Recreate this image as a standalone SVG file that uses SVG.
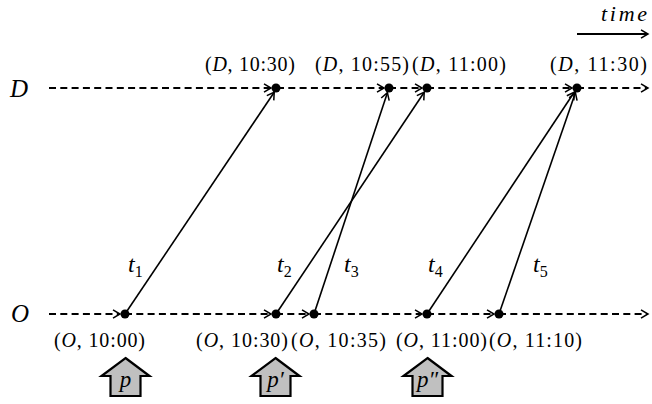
<svg xmlns="http://www.w3.org/2000/svg" width="652" height="404" viewBox="0 0 652 404" font-family="Liberation Serif, Times New Roman, DejaVu Serif, serif">
<style>
text{fill:#000}
.i{font-style:italic}
.lbl{font-size:20px}
.tl{font-size:24px;font-style:italic}
.tm{font-size:22px;font-style:italic}
.sub{font-size:16px;font-style:normal}
.axis{font-size:25px;font-style:italic}
.pl{font-size:23px;font-style:italic}
.dash{stroke:#000;stroke-width:2;stroke-dasharray:7 4.3;fill:none}
.trip{stroke:#000;stroke-width:1.6;fill:none}
.dot{fill:#000}
.pent{fill:#c0c0c0;stroke:#000;stroke-width:2.2;stroke-linejoin:miter}
</style>
<defs>
<marker id="ah" markerUnits="userSpaceOnUse" markerWidth="14" markerHeight="14" viewBox="-8 -6 10 12" refX="0" refY="0" orient="auto">
<path d="M-6,-3.6 L0,0 L-6,3.6" fill="none" stroke="#000" stroke-width="1.3" stroke-linejoin="miter"/>
</marker>
</defs>
<g id="time-arrow">
<text class="tm" x="601" y="21" textLength="46" lengthAdjust="spacing">time</text>
<line x1="577" y1="34" x2="648" y2="34" stroke="#000" stroke-width="2" marker-end="url(#ah)"/>
</g>
<g id="connectors">
<path class="dash" d="M49,88 H271" marker-end="url(#ah)"/>
<path class="dash" d="M277,88 H384" marker-end="url(#ah)"/>
<path class="dash" d="M389,88 H422" marker-end="url(#ah)"/>
<path class="dash" d="M427,88 H572" marker-end="url(#ah)"/>
<path class="dash" d="M577,88 H648" marker-end="url(#ah)"/>
<path class="dash" d="M49,314 H120" marker-end="url(#ah)"/>
<path class="dash" d="M125,314 H271" marker-end="url(#ah)"/>
<path class="dash" d="M276,314 H309" marker-end="url(#ah)"/>
<path class="dash" d="M314,314 H422" marker-end="url(#ah)"/>
<path class="dash" d="M427,314 H494" marker-end="url(#ah)"/>
<path class="dash" d="M499,314 H648" marker-end="url(#ah)"/>
<line class="trip" x1="125" y1="314" x2="274.2" y2="92.2" marker-end="url(#ah)"/>
<line class="trip" x1="276" y1="314" x2="424.2" y2="92.2" marker-end="url(#ah)"/>
<line class="trip" x1="314" y1="314" x2="387.4" y2="92.7" marker-end="url(#ah)"/>
<line class="trip" x1="427" y1="314" x2="574.2" y2="92.2" marker-end="url(#ah)"/>
<line class="trip" x1="499" y1="314" x2="575.4" y2="92.7" marker-end="url(#ah)"/>
<text class="tl" x="128" y="272">t<tspan class="sub" dy="5">1</tspan></text>
<text class="tl" x="277" y="272">t<tspan class="sub" dy="5">2</tspan></text>
<text class="tl" x="344" y="272">t<tspan class="sub" dy="5">3</tspan></text>
<text class="tl" x="428" y="272">t<tspan class="sub" dy="5">4</tspan></text>
<text class="tl" x="533" y="272">t<tspan class="sub" dy="5">5</tspan></text>
</g>
<g id="axis-D"><text class="axis" x="10" y="97">D</text></g>
<g id="axis-O"><text class="axis" x="11" y="322">O</text></g>
<g id="D-1030"><circle class="dot" cx="276" cy="88" r="4.5"/><text class="lbl" x="205" y="71" textLength="90" lengthAdjust="spacing">(<tspan class="i">D</tspan>, 10:30)</text></g>
<g id="D-1055"><circle class="dot" cx="389" cy="88" r="4.5"/><text class="lbl" x="315" y="71" textLength="94" lengthAdjust="spacing">(<tspan class="i">D</tspan>, 10:55)</text></g>
<g id="D-1100"><circle class="dot" cx="427" cy="88" r="4.5"/><text class="lbl" x="412" y="71" textLength="94" lengthAdjust="spacing">(<tspan class="i">D</tspan>, 11:00)</text></g>
<g id="D-1130"><circle class="dot" cx="577" cy="88" r="4.5"/><text class="lbl" x="550" y="71" textLength="97" lengthAdjust="spacing">(<tspan class="i">D</tspan>, 11:30)</text></g>
<g id="O-1000"><circle class="dot" cx="125" cy="314" r="4.5"/><text class="lbl" x="54" y="347" textLength="91" lengthAdjust="spacing">(<tspan class="i">O</tspan>, 10:00)</text></g>
<g id="O-1030"><circle class="dot" cx="276" cy="314" r="4.5"/><text class="lbl" x="196" y="347" textLength="92" lengthAdjust="spacing">(<tspan class="i">O</tspan>, 10:30)</text></g>
<g id="O-1035"><circle class="dot" cx="314" cy="314" r="4.5"/><text class="lbl" x="291" y="347" textLength="95" lengthAdjust="spacing">(<tspan class="i">O</tspan>, 10:35)</text></g>
<g id="O-1100"><circle class="dot" cx="427" cy="314" r="4.5"/><text class="lbl" x="396" y="347" textLength="91" lengthAdjust="spacing">(<tspan class="i">O</tspan>, 11:00)</text></g>
<g id="O-1110"><circle class="dot" cx="499" cy="314" r="4.5"/><text class="lbl" x="489" y="347" textLength="93" lengthAdjust="spacing">(<tspan class="i">O</tspan>, 11:10)</text></g>
<g id="pkt-p"><path class="pent" d="M125.5,358 L149.5,376 L140.5,376 L140.5,396 L110.5,396 L110.5,376 L101.5,376 Z"/><text class="pl" x="125.5" y="387" text-anchor="middle">p</text></g>
<g id="pkt-p1"><path class="pent" d="M275.5,358 L299.5,376 L290.5,376 L290.5,396 L260.5,396 L260.5,376 L251.5,376 Z"/><text class="pl" x="275.5" y="387" text-anchor="middle">p′</text></g>
<g id="pkt-p2"><path class="pent" d="M427.5,358 L451.5,376 L442.5,376 L442.5,396 L412.5,396 L412.5,376 L403.5,376 Z"/><text class="pl" x="427.5" y="387" text-anchor="middle">p″</text></g>
</svg>
